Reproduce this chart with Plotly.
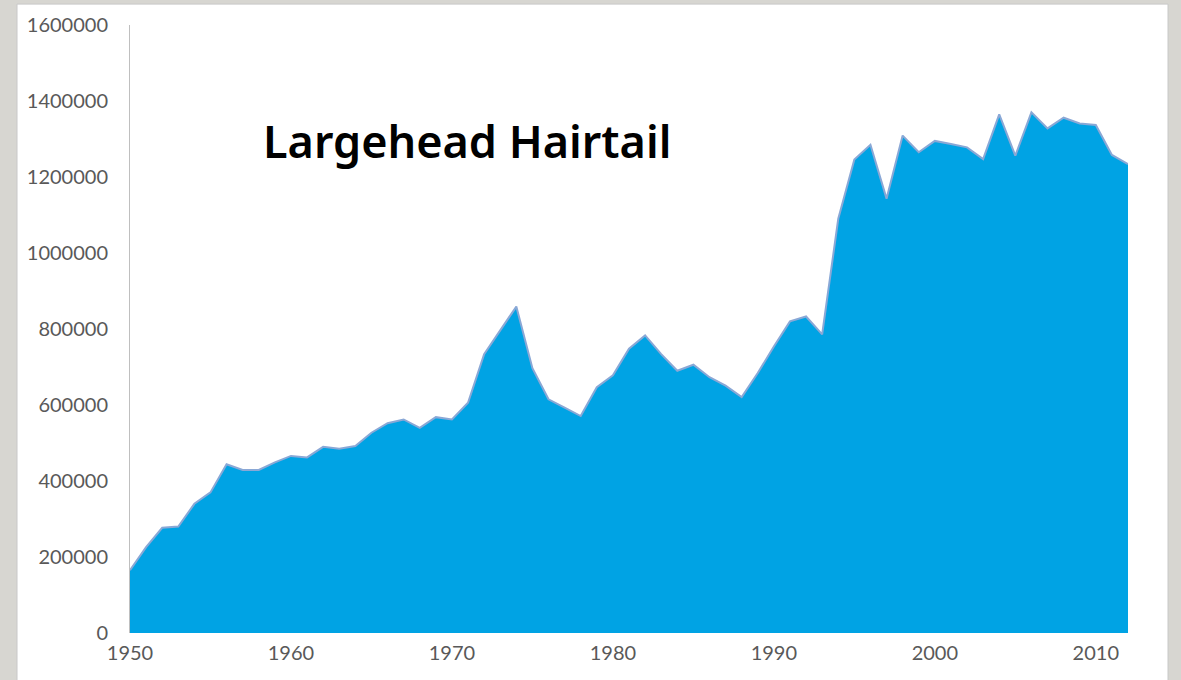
import plotly.graph_objects as go

years = list(range(1950, 2013))
catch = [
    165000, 226000, 277000, 280000, 340000, 370000, 444000, 429000, 429000, 449000,
    466000, 462000, 490000, 485000, 492000, 527000, 552000, 562000, 540000, 568000,
    562000, 606000, 734000, 798000, 859000, 697000, 615000, 593000, 571000, 647000,
    678000, 748000, 783000, 734000, 690000, 706000, 673000, 651000, 621000, 684000,
    754000, 820000, 833000, 786000, 1090000, 1246000, 1285000, 1143000, 1309000, 1265000,
    1295000, 1287000, 1278000, 1247000, 1365000, 1256000, 1370000, 1328000, 1356000, 1341000,
    1337000, 1258000, 1234000,
]
y_ticks = [0, 200000, 400000, 600000, 800000, 1000000, 1200000, 1400000, 1600000]
x_ticks = [1950, 1960, 1970, 1980, 1990, 2000, 2010]
title_text = "Largehead Hairtail"

W, H = 1181, 680
ML, MR, MT, MB = 130, W - 1128, 22, H - 633
pw, ph = W - ML - MR, H - MT - MB

def px(x):
    return (x - ML) / pw

def py(y):
    return (H - MB - y) / ph

fig = go.Figure()
fig.add_trace(go.Scatter(
    x=years, y=catch, mode="lines", fill="tozeroy",
    fillcolor="#00A3E4", line=dict(color="#8AA8D6", width=2),
    hoverinfo="x+y", showlegend=False,
))

fig.update_layout(
    width=W, height=H,
    margin=dict(l=ML, r=MR, t=MT, b=MB, pad=0),
    paper_bgcolor="#D7D6D1",
    plot_bgcolor="white",
    font=dict(family="Lato, 'Open Sans', sans-serif", color="#595959", size=20),
    xaxis=dict(range=[1950, 2012], tickvals=x_ticks, showgrid=False, zeroline=False,
               showline=False, ticks="", tickfont=dict(size=20, color="#595959"),
               ticklabelstandoff=6, fixedrange=True),
    yaxis=dict(range=[0, 1600000], tickvals=y_ticks, ticktext=[str(v) for v in y_ticks],
               showgrid=False, zeroline=False, showline=True, linecolor="#BFBFBF",
               linewidth=1, ticks="", tickfont=dict(size=20, color="#595959"),
               ticklabelstandoff=17, fixedrange=True),
    shapes=[dict(type="rect", xref="paper", yref="paper", layer="below",
                 x0=px(17), x1=px(1168), y0=py(H + 5), y1=py(1),
                 fillcolor="white", line=dict(width=1, color="#C8C8C8"))],
    annotations=[dict(text=title_text, xref="paper", yref="paper",
                      x=px(467), y=py(138), xanchor="center", yanchor="middle",
                      showarrow=False,
                      font=dict(family="'Noto Sans', sans-serif", size=45,
                                color="black", weight=600))],
)

fig.write_html("out.html", config={"displayModeBar": False},
               post_script="document.body.style.margin='0';document.body.style.overflow='hidden';")
